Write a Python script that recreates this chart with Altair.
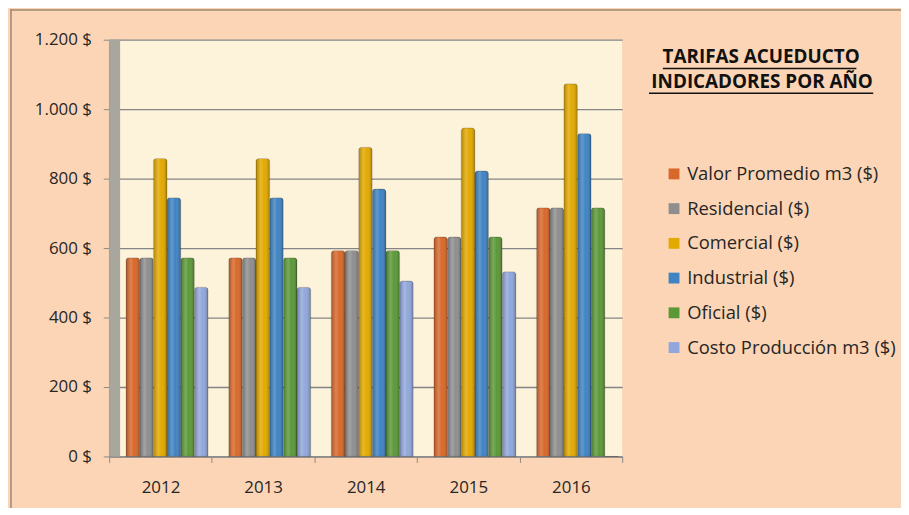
import altair as alt
import pandas as pd

years = ["2012", "2013", "2014", "2015", "2016"]
series_names = [
    "Valor Promedio m3 ($)",
    "Residencial ($)",
    "Comercial ($)",
    "Industrial ($)",
    "Oficial ($)",
    "Costo Producción m3 ($)",
]
valor = [572, 572, 593, 632, 716]
residencial = [572, 572, 593, 632, 716]
comercial = [858, 858, 890, 946, 1073]
industrial = [745, 745, 770, 822, 930]
oficial = [572, 572, 593, 632, 716]
costo = [487, 487, 505, 532, 0]
y_ticks = [0, 200, 400, 600, 800, 1000, 1200]
title_lines = ["TARIFAS ACUEDUCTO", "INDICADORES POR AÑO"]

series_colors = ["#D8682A", "#8E8E8E", "#E2A900", "#3F83C3", "#5B9838", "#91A7DC"]

rows = []
for name, vals in zip(series_names, [valor, residencial, comercial, industrial, oficial, costo]):
    for yr, v in zip(years, vals):
        rows.append({"Año": yr, "Serie": name, "Valor": v})
df = pd.DataFrame(rows)

FONT = "Open Sans"
W, H = 517, 420

one = pd.DataFrame({"a": [0]})

frame = alt.Chart(one).mark_rule(color="#9C8775", strokeWidth=1.5).encode(
    x=alt.value(-99), y=alt.value(-31), y2=alt.value(H + 52)
)
frame_top = alt.Chart(one).mark_rule(color="#9C8775", strokeWidth=1.5).encode(
    x=alt.value(-99), x2=alt.value(W + 290), y=alt.value(-30)
)

wall = alt.Chart(one).mark_rect(color="#A9A69D").encode(
    x=alt.value(0), x2=alt.value(11), y=alt.value(0), y2=alt.value(H)
)

x_enc = alt.X(
    "Año:N",
    sort=years,
    scale=alt.Scale(paddingInner=0, paddingOuter=0),
    axis=alt.Axis(
        title=None, labelAngle=0, tickBand="extent", labelFont=FONT, labelFontSize=17,
        labelColor="#262626", labelPadding=17, tickSize=6, tickColor="#8a8a8a",
        domainColor="#8a8a8a", domainWidth=1.5, grid=False,
    ),
)
xo_enc = alt.XOffset(
    "Serie:N", sort=series_names,
    scale=alt.Scale(paddingInner=0, paddingOuter=0.75, align=0.82),
)
y_enc = alt.Y(
    "Valor:Q",
    scale=alt.Scale(domain=[0, 1200]),
    axis=alt.Axis(
        title=None, values=y_ticks,
        labelExpr="replace(format(datum.value, ',d'), ',', '.') + ' $'",
        labelFont=FONT, labelFontSize=17, labelColor="#262626", labelPadding=12,
        tickSize=6, tickColor="#8a8a8a", domainColor="#8a8a8a", domainWidth=1.5,
        gridColor="#858585", gridWidth=1.3,
    ),
)

bars = alt.Chart(df).mark_bar(
    cornerRadiusTopLeft=3, cornerRadiusTopRight=3, stroke="#00000040", strokeWidth=0.6,
).encode(
    x=x_enc,
    xOffset=xo_enc,
    y=y_enc,
    color=alt.Color(
        "Serie:N",
        sort=series_names,
        scale=alt.Scale(domain=series_names, range=series_colors),
        legend=alt.Legend(
            title=None, orient="none", legendX=560, legendY=126,
            labelFont=FONT, labelFontSize=18.5, labelColor="#262626",
            symbolType="square", symbolSize=120, symbolStrokeWidth=0,
            rowPadding=16, labelOffset=4, labelLimit=300,
        ),
    ),
)

shade = alt.Chart(df).mark_bar(
    cornerRadiusTopLeft=3, cornerRadiusTopRight=3,
    color=alt.Gradient(
        gradient="linear", x1=0, x2=1, y1=0, y2=0,
        stops=[
            alt.GradientStop(offset=0, color="rgba(0,0,0,0.22)"),
            alt.GradientStop(offset=0.35, color="rgba(255,255,255,0.18)"),
            alt.GradientStop(offset=0.6, color="rgba(255,255,255,0.0)"),
            alt.GradientStop(offset=1, color="rgba(0,0,0,0.28)"),
        ],
    ),
).encode(x=x_enc, xOffset=xo_enc, y=y_enc)

t1 = alt.Chart(one).mark_text(
    text=title_lines[0], font=FONT, fontSize=19, fontWeight="bold", color="#111111",
    align="center", baseline="middle"
).encode(x=alt.value(657), y=alt.value(17))
t2 = alt.Chart(one).mark_text(
    text=title_lines[1], font=FONT, fontSize=19, fontWeight="bold", color="#111111",
    align="center", baseline="middle"
).encode(x=alt.value(658), y=alt.value(43))
u1 = alt.Chart(one).mark_rule(color="#111111", strokeWidth=1.5).encode(
    x=alt.value(558), x2=alt.value(753), y=alt.value(29)
)
u2 = alt.Chart(one).mark_rule(color="#111111", strokeWidth=1.5).encode(
    x=alt.value(544), x2=alt.value(770), y=alt.value(54)
)

chart = alt.layer(frame, frame_top, wall, bars, shade, t1, t2, u1, u2).properties(
    width=W, height=H,
    background="#FBD5B5",
    padding={"left": 102, "top": 30, "right": 281, "bottom": 50},
    autosize=alt.AutoSizeParams(type="none"),
).configure_view(fill="#FDF2DA", stroke=None)

chart.save("out.html", embed_options={"renderer": "svg", "actions": False})
